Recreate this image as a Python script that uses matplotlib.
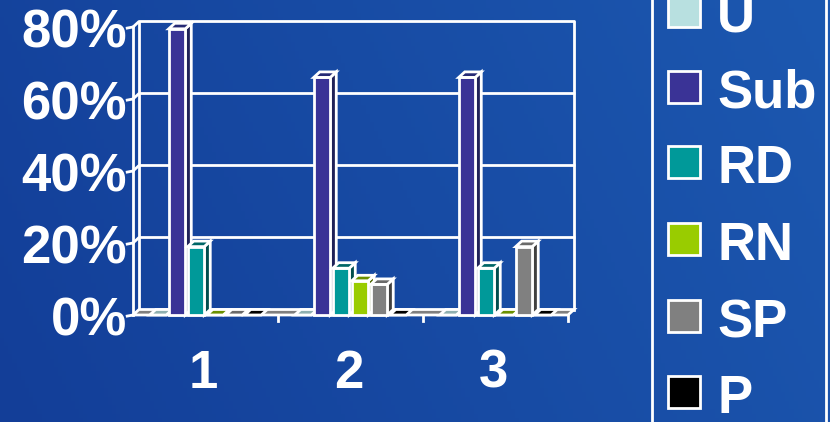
import numpy as np
import matplotlib
matplotlib.use("Agg")
import matplotlib.pyplot as plt
from matplotlib.patches import Polygon, Rectangle

# datos
grupos = ["1", "2", "3"]
series = ["U", "Sub", "RD", "RN", "SP", "P"]
u_vals = [0, 0, 0]
sub_vals = [79.5, 66, 66]
rd_vals = [19, 13, 13]
rn_vals = [0, 9.5, 0]
sp_vals = [0, 8.5, 19]
p_vals = [0, 0, 0]
ticks_y = [0, 20, 40, 60, 80]
ticks_lbl = ["0%", "20%", "40%", "60%", "80%"]

valores = [u_vals, sub_vals, rd_vals, rn_vals, sp_vals, p_vals]
frente = ["#b8e0e0", "#3a3396", "#009999", "#99cc00", "#808080", "#000000"]
lado = ["#7fa3a3", "#1f2158", "#004d4d", "#4d6600", "#404040", "#000000"]
tapa = ["#8fb0b0", "#262a75", "#006666", "#6a9000", "#6a6a6a", "#000000"]

fig = plt.figure(figsize=(8.3, 4.22), dpi=100)

# fondo azul degradado
bg = fig.add_axes([0, 0, 1, 1])
gx = np.linspace(0, 1, 200)
gy = np.linspace(0, 1, 100)
X, Y = np.meshgrid(gx, gy)
c0 = np.array([0x13, 0x3e, 0x98]) / 255
c1 = np.array([0x1c, 0x58, 0xb0]) / 255
t = (0.8 * X + 0.2 * (1 - Y))[..., None]
bg.imshow(c0 + (c1 - c0) * t, extent=[0, 1, 0, 1], aspect="auto", origin="upper")
bg.axis("off")

ax = fig.add_axes([133 / 830, (422 - 315) / 422, 435 / 830, 288 / 422])
ax.set_xlim(-0.5, 2.5)
ax.set_ylim(0, 80)
ax.axis("off")

dx = 6 / 145
dy = 5.5 / 3.6
lw = 2
blanco = dict(edgecolor="white", linewidth=lw, clip_on=False)

# suelo
ax.add_patch(Polygon([(-0.5, 0), (2.5, 0), (2.5 + dx, dy), (-0.5 + dx, dy)],
                     facecolor="#7f7f7f", zorder=2, **blanco))

# pared del fondo y rejilla
for yv in ticks_y[1:]:
    ax.plot([-0.5, -0.5 + dx, 2.5 + dx], [yv, yv + dy, yv + dy], color="white",
            lw=lw, clip_on=False, zorder=1)
    ax.plot([-0.5 - 0.04, -0.5], [yv - 0.3, yv], color="white", lw=lw, clip_on=False)
ax.plot([-0.5 - 0.04, -0.5], [-0.3, 0], color="white", lw=lw, clip_on=False)
ax.plot([-0.5, -0.5], [0, 80], color="white", lw=lw, clip_on=False, zorder=1)
ax.plot([-0.5 + dx, -0.5 + dx], [dy, 80 + dy], color="white", lw=lw, clip_on=False, zorder=1)
ax.plot([2.5 + dx, 2.5 + dx], [dy, 80 + dy], color="white", lw=lw, clip_on=False, zorder=1)
for xv in [0.5, 1.5, 2.5]:
    ax.plot([xv, xv], [0, -1.6], color="white", lw=lw, clip_on=False)

# barras 3D
paso = 0.131
w = 0.114
for k, vals in enumerate(valores):
    for g, v in enumerate(vals):
        x0 = g - 3 * paso + k * paso + (paso - w) / 2
        z = 3 + k
        if v > 0:
            ax.add_patch(Polygon([(x0 + w, 0), (x0 + w + dx, dy), (x0 + w + dx, v + dy), (x0 + w, v)],
                                 facecolor=lado[k], zorder=z, **blanco))
            ax.add_patch(Rectangle((x0, 0), w, v, facecolor=frente[k], zorder=z, **blanco))
        ax.add_patch(Polygon([(x0, v), (x0 + dx, v + dy), (x0 + w + dx, v + dy), (x0 + w, v)],
                             facecolor=tapa[k], zorder=z, **blanco))

fuente = dict(color="white", fontweight="bold", family="Liberation Sans", fontsize=38)
for yv, lbl in zip(ticks_y, ticks_lbl):
    ax.text(-0.5 - 6 / 145, yv - 21 / 3.6, lbl, ha="right", va="baseline", clip_on=False, **fuente)
for g, lbl in enumerate(grupos):
    ax.text(g - 2 / 145, -73 / 3.6, lbl, ha="center", va="baseline", clip_on=False, **fuente)

# leyenda
fig.add_artist(Rectangle((652 / 830, -0.05), 174 / 830, 1.1, transform=fig.transFigure,
                         facecolor="none", edgecolor="white", linewidth=2))
centros = [11, 87, 162, 239, 316, 392]
for k, s in enumerate(series):
    cy = centros[k]
    fig.add_artist(Rectangle((668 / 830, 1 - (cy + 16) / 422), 32 / 830, 32 / 422,
                             transform=fig.transFigure, facecolor=frente[k],
                             edgecolor="white", linewidth=2))
    fig.text(717 / 830, 1 - (cy + 21) / 422, s, ha="left", va="baseline", **fuente)

fig.savefig("out.png", dpi=100)
